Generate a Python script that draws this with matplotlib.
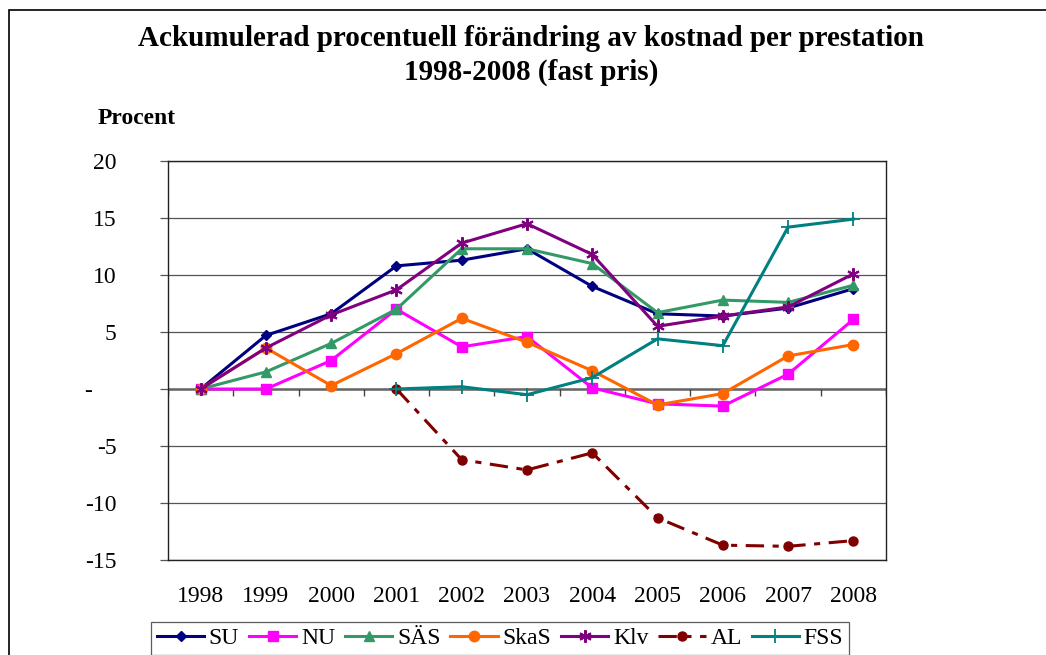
import numpy as np
import matplotlib
matplotlib.use("Agg")
import matplotlib.pyplot as plt
from matplotlib.patches import Rectangle

plt.rcParams['font.family'] = ['Liberation Serif', 'DejaVu Serif']

# Data
years = ['1998', '1999', '2000', '2001', '2002', '2003', '2004', '2005', '2006', '2007', '2008']
su   = [0, 4.7, 6.6, 10.8, 11.3, 12.3, 9.0, 6.6, 6.4, 7.1, 8.8]
nu   = [0, 0.0, 2.5, 7.0, 3.7, 4.6, 0.1, -1.3, -1.5, 1.3, 6.1]
sas  = [0, 1.5, 4.0, 7.0, 12.3, 12.3, 11.0, 6.7, 7.8, 7.6, 9.1]
skas = [0, 3.6, 0.3, 3.1, 6.2, 4.1, 1.6, -1.4, -0.4, 2.9, 3.9]
klv  = [0, 3.6, 6.5, 8.7, 12.8, 14.5, 11.8, 5.5, 6.4, 7.2, 10.1]
al   = [np.nan, np.nan, np.nan, 0, -6.2, -7.1, -5.6, -11.3, -13.7, -13.8, -13.3]
fss  = [np.nan, np.nan, np.nan, 0, 0.2, -0.5, 1.0, 4.4, 3.8, 14.2, 14.9]

yticks = [20, 15, 10, 5, 0, -5, -10, -15]
ylabels = ['20', '15', '10', '5', '-    ', '-5', '-10', '-15']

W, H = 1046, 655
fig = plt.figure(figsize=(W / 100, H / 100), dpi=100)
ax = fig.add_axes([168 / W, 1 - 560 / H, (886 - 168) / W, (560 - 161) / H])

x = np.arange(len(years))
lw = 2.2
ax.plot(x, su, color='#000080', lw=lw, marker='D', ms=5.5, label='SU', zorder=5)
ax.plot(x, nu, color='#FF00FF', lw=lw, marker='s', ms=7.5, label='NU', zorder=5)
ax.plot(x, sas, color='#339966', lw=lw, marker='^', ms=7.5, label='SÄS', zorder=5)
ax.plot(x, skas, color='#FF6600', lw=lw, marker='o', ms=7.5, label='SkaS', zorder=5)
ax.plot(x, klv, color='#800080', lw=lw, marker=(6, 2, 0), ms=9, mew=1.5, label='Klv', zorder=5)
ax.plot(x, al, color='#800000', lw=lw, marker='o', ms=6.5, dashes=(6, 2.8, 2, 2.8), label='AL', zorder=5)
ax.plot(x, fss, color='#008080', lw=lw, marker='+', ms=10, mew=1.3, label='FSS', zorder=5)

ax.set_xlim(-0.5, len(years) - 0.5)
ax.set_ylim(-15, 20)
ax.set_yticks(yticks)
ax.set_yticklabels(ylabels, fontsize=17)
ax.set_xticks(x)
ax.set_xticklabels(years, fontsize=17)
ax.tick_params(axis='x', length=0, pad=19)
ax.tick_params(axis='y', length=6, width=0.9, direction='out', pad=31, color='#555555')
ax.grid(axis='y', color='#555555', lw=0.9, zorder=1)
for s in ax.spines.values():
    s.set_color('#222222')
    s.set_linewidth(1.0)

# category axis crossing at zero
ax.axhline(0, color='#666666', lw=1.8, zorder=2)
ax.vlines(np.arange(-0.5, len(years)), -0.6, 0, color='#444444', lw=1.0, zorder=2)

fig.text(531 / W, 1 - 38 / H, 'Ackumulerad procentuell förändring av kostnad per prestation',
         ha='center', va='center', fontsize=21, fontweight='bold')
fig.text(531 / W, 1 - 72 / H, '1998-2008 (fast pris)',
         ha='center', va='center', fontsize=21, fontweight='bold')
fig.text(98 / W, 1 - 118 / H, 'Procent', ha='left', va='center', fontsize=17, fontweight='bold')

leg = fig.legend(loc='upper left', bbox_to_anchor=(151 / W, 1 - 622 / H), ncol=7,
                 fontsize=17, frameon=True, fancybox=False, edgecolor='#333333',
                 handlelength=2.0, handletextpad=0.2, columnspacing=0.42,
                 borderpad=0.25, borderaxespad=0)
leg.get_frame().set_linewidth(0.9)

fig.add_artist(Rectangle((9 / W, -0.2), 2, 1.2 - 10 / H, transform=fig.transFigure,
                         fill=False, edgecolor='black', lw=1.2))

fig.savefig('out.png', dpi=100)
